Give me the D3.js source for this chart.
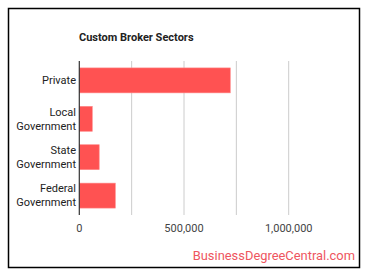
<!DOCTYPE html>
<html>
<head>
<meta charset="utf-8">
<script src="https://cdn.jsdelivr.net/npm/d3@7"></script>
<style>
  body { margin: 0; background: #fff; }
  svg { font-family: Roboto, "Noto Sans", sans-serif; }
</style>
</head>
<body>
<svg id="chart" width="370" height="278"></svg>
<script>
// Chart data
const sectors = [["Private"], ["Local", "Government"], ["State", "Government"], ["Federal", "Government"]];
const workers = [721000, 62000, 95000, 172000];
const tickValues = [0, 500000, 1000000];
const gridValues = [0, 250000, 500000, 750000, 1000000];

const barColor = '#ff5252';

const svg = d3.select("#chart");

// outer frame
svg.append("rect")
    .attr("x", 8.5).attr("y", 8.5)
    .attr("width", 351).attr("height", 259)
    .attr("fill", "none")
    .attr("stroke", "#000")
    .attr("stroke-width", 1.5);

const x = d3.scaleLinear()
    .domain([0, 1000000])
    .range([79.3, 288.7]);

const y = d3.scaleBand()
    .domain(d3.range(sectors.length))
    .range([61, 215])
    .paddingInner(0.35)
    .paddingOuter(0.18);

// gridlines
svg.append("g").selectAll("line")
    .data(gridValues.slice(1))
    .enter().append("line")
    .attr("x1", d => x(d)).attr("x2", d => x(d))
    .attr("y1", 61).attr("y2", 215)
    .attr("stroke", "#ccc")
    .attr("stroke-width", 1);

// bars
svg.append("g").selectAll("rect")
    .data(workers)
    .enter().append("rect")
    .attr("x", x(0))
    .attr("y", (d, i) => y(i))
    .attr("width", d => x(d) - x(0))
    .attr("height", y.bandwidth())
    .attr("fill", barColor)
    .attr("stroke", "#ff8a8a")
    .attr("stroke-width", 0.6);

// baseline
svg.append("line")
    .attr("x1", x(0)).attr("x2", x(0))
    .attr("y1", 61).attr("y2", 215)
    .attr("stroke", "#333")
    .attr("stroke-width", 1.2);

// category labels
const labels = svg.append("g").selectAll("text")
    .data(sectors)
    .enter().append("text")
    .attr("text-anchor", "end")
    .attr("font-size", 11)
    .attr("fill", "#222");

labels.each(function(lines, i) {
    const cy = y(i) + y.bandwidth() / 2;
    const start = cy - (lines.length - 1) * 7;
    d3.select(this).selectAll("tspan")
        .data(lines)
        .enter().append("tspan")
        .attr("x", 76)
        .attr("y", (d, j) => start + j * 14)
        .attr("dy", "0.35em")
        .text(d => d);
});

// x tick labels
svg.append("g").selectAll("text")
    .data(tickValues)
    .enter().append("text")
    .attr("x", d => x(d))
    .attr("y", 228.5)
    .attr("dy", "0.35em")
    .attr("text-anchor", "middle")
    .attr("font-size", 11)
    .attr("fill", "#444")
    .text(d => d3.format(",")(d));

// title
svg.append("text")
    .attr("x", 79)
    .attr("y", 37.5)
    .attr("dy", "0.35em")
    .attr("font-size", 11)
    .attr("font-weight", "bold")
    .attr("fill", "#222")
    .text("Custom Broker Sectors");

// watermark
svg.append("text")
    .attr("x", 355)
    .attr("y", 255.5)
    .attr("dy", "0.35em")
    .attr("text-anchor", "end")
    .attr("font-size", 12.9)
    .attr("fill", "#ee5560")
    .text("BusinessDegreeCentral.com");
</script>
</body>
</html>
